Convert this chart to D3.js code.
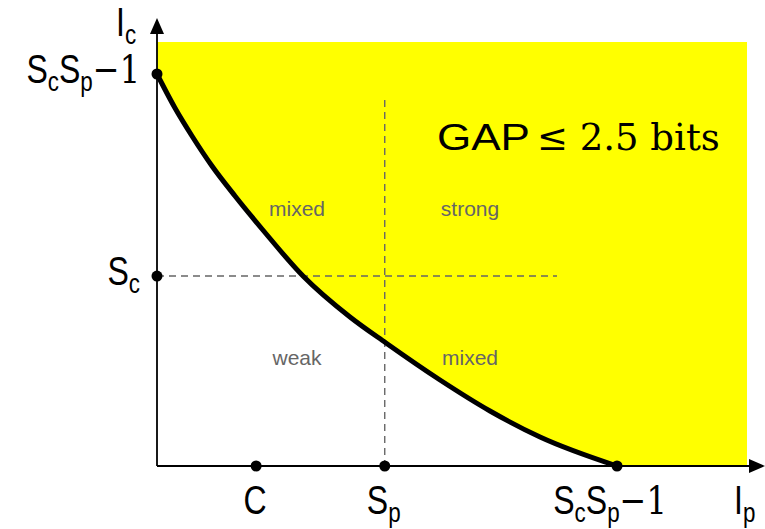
<!DOCTYPE html>
<html>
<head>
<meta charset="utf-8">
<script src="https://cdn.jsdelivr.net/npm/d3@7"></script>
<style>
  body { margin: 0; background: #fff; }
  svg { display: block; }
</style>
</head>
<body>
<svg id="chart" width="765" height="529"></svg>
<script>
// boundary curve Ic vs Ip (units: plotted area is 10 x 10)
var curveX = [0, 0.305, 0.593, 0.932, 1.322, 1.780, 2.475, 3.271, 3.881, 4.797, 5.644, 6.492, 7.797];
var curveY = [9.245, 8.443, 7.783, 7.075, 6.368, 5.590, 4.481, 3.514, 2.901, 2.028, 1.297, 0.684, 0];

var xTickValues = [1.68, 3.86, 7.797];
var xTickLabels = ["C", "S_p", "S_cS_p\u22121"];
var yTickValues = [4.48, 9.245];
var yTickLabels = ["S_c", "S_cS_p\u22121"];

var regionNames = ["mixed", "strong", "weak", "mixed"];
var xAxisName = "I_p";
var yAxisName = "I_c";

var svg = d3.select("#chart");
var x = d3.scaleLinear().domain([0, 10]).range([157, 747]);
var y = d3.scaleLinear().domain([0, 10]).range([466, 42]);

var sansFont = "'Liberation Sans', Arial, sans-serif";
var serifFont = "'DejaVu Serif', serif";

var pts = curveX.map(function(d, i) { return [d, curveY[i]]; });
var line = d3.line()
    .x(function(d) { return x(d[0]); })
    .y(function(d) { return y(d[1]); })
    .curve(d3.curveMonotoneX);

// yellow region above the curve
svg.append("path")
    .attr("d", line(pts) + "L" + x(10) + "," + y(0) + "L" + x(10) + "," + y(10) + "L" + x(0) + "," + y(10) + "Z")
    .attr("fill", "#ffff00");

// dashed guides
svg.append("line")
    .attr("x1", x(xTickValues[1])).attr("x2", x(xTickValues[1]))
    .attr("y1", y(8.63)).attr("y2", y(0))
    .attr("stroke", "#666").attr("stroke-width", 1.4).attr("stroke-dasharray", "7,5");
svg.append("line")
    .attr("x1", x(0)).attr("x2", x(6.78))
    .attr("y1", y(yTickValues[0])).attr("y2", y(yTickValues[0]))
    .attr("stroke", "#666").attr("stroke-width", 1.4).attr("stroke-dasharray", "7,5");

// axes with arrows
svg.append("line")
    .attr("x1", x(0)).attr("y1", y(0)).attr("x2", 752).attr("y2", y(0))
    .attr("stroke", "#000").attr("stroke-width", 1.8);
svg.append("path")
    .attr("d", "M765," + y(0) + "L749," + (y(0) - 7) + "L749," + (y(0) + 7) + "Z");
svg.append("line")
    .attr("x1", x(0)).attr("y1", y(0)).attr("x2", x(0)).attr("y2", 30)
    .attr("stroke", "#000").attr("stroke-width", 1.8);
svg.append("path")
    .attr("d", "M" + x(0) + ",18L" + (x(0) - 7) + ",34L" + (x(0) + 7) + ",34Z");

// the curve
svg.append("path")
    .attr("d", line(pts))
    .attr("fill", "none")
    .attr("stroke", "#000")
    .attr("stroke-width", 5)
    .attr("stroke-linecap", "round");

// dots on axes
svg.selectAll(".xdot").data(xTickValues).enter().append("circle")
    .attr("cx", function(d) { return x(d); }).attr("cy", y(0)).attr("r", 5.5);
svg.selectAll(".ydot").data(yTickValues).enter().append("circle")
    .attr("cx", x(0)).attr("cy", function(d) { return y(d); }).attr("r", 5.5);

// text with "_" subscripts; digits and minus in serif; squeezed to look like CM sans
var richText = function(px, py, anchor, str) {
    var t = svg.append("text")
        .attr("transform", "translate(" + px + "," + py + ") scale(0.8,1)")
        .attr("text-anchor", anchor);
    var shift = 0;
    var put = function(s, sub, serif) {
        var want = sub ? 8 : 0;
        t.append("tspan")
            .attr("dy", want - shift)
            .attr("font-size", sub ? 28 : 40)
            .attr("font-family", serif ? serifFont : sansFont)
            .text(s);
        shift = want;
    };
    var i = 0;
    while (i < str.length) {
        if (str[i] == "_") {
            put(str[i + 1], true, false);
            i += 2;
        } else {
            put(str[i], false, /[0-9\u2212]/.test(str[i]));
            i += 1;
        }
    }
    return t;
};

xTickLabels.forEach(function(lab, i) {
    richText(x(xTickValues[i]) - (i == 2 ? 7 : 1), 514, "middle", lab);
});
yTickLabels.forEach(function(lab, i) {
    richText(140, y(yTickValues[i]) + 9, "end", lab);
});
richText(734, 514, "start", xAxisName);
richText(116, 36, "start", yAxisName);

// region labels
var regionPos = [[297, 216], [470, 216], [297, 365], [470, 365]];
svg.selectAll(".region").data(regionNames).enter().append("text")
    .attr("x", function(d, i) { return regionPos[i][0]; })
    .attr("y", function(d, i) { return regionPos[i][1]; })
    .attr("text-anchor", "middle")
    .attr("font-family", "'Liberation Sans', Arial, sans-serif")
    .attr("font-size", 21)
    .attr("fill", "#666")
    .text(function(d) { return d; });

// GAP annotation
svg.append("text").attr("x", 437).attr("y", 150)
    .attr("font-family", sansFont).attr("font-size", 36)
    .attr("textLength", 93).attr("lengthAdjust", "spacingAndGlyphs")
    .text("GAP");
svg.append("text").attr("x", 537).attr("y", 150)
    .attr("font-family", serifFont).attr("font-size", 37)
    .text("\u2264 2.5 bits");
</script>
</body>
</html>
